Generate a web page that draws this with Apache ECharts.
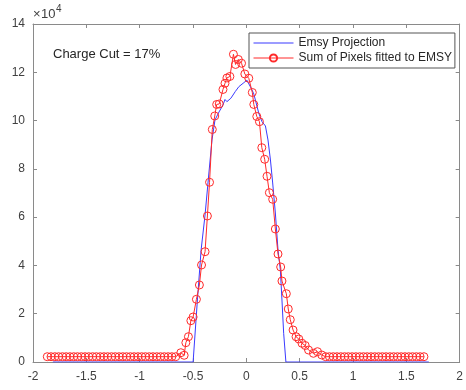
<!DOCTYPE html>
<html>
<head>
<meta charset="utf-8">
<script src="https://cdn.jsdelivr.net/npm/echarts@6/dist/echarts.min.js"></script>
<style>
html, body { margin: 0; padding: 0; background: #fff; }
#chart { width: 466px; height: 390px; }
</style>
</head>
<body>
<div id="chart"></div>
<script>
// Emsy projection (blue line)
var blueX = [-1.814, -0.499, -0.462, -0.424, -0.387, -0.350, -0.322, -0.294, -0.256, -0.219,
	-0.200, -0.182, -0.145, -0.103, -0.070, -0.023, 0.005, 0.023, 0.049, 0.070,
	0.117, 0.147, 0.179, 0.203, 0.226, 0.247, 0.272, 0.297, 0.319, 0.334,
	0.350, 0.371, 1.711];
var blueY = [0, 0, 23610, 46400, 60900, 78710, 91970, 100250, 103560, 106460,
	108740, 107830, 109240, 112060, 114050, 115700, 116740, 116120, 113090, 111020,
	103020, 99540, 97760, 91970, 83680, 74150, 61720, 46400, 38110, 25680,
	11890, 0, 0];

// Sum of pixels fitted to EMSY (red circles)
var redX = [-1.866, -1.831, -1.795, -1.760, -1.724, -1.689, -1.654, -1.618, -1.583, -1.547,
	-1.512, -1.477, -1.441, -1.406, -1.370, -1.335, -1.300, -1.264, -1.229, -1.193,
	-1.158, -1.123, -1.087, -1.052, -1.016, -0.981, -0.946, -0.910, -0.875, -0.839,
	-0.804, -0.769, -0.733, -0.698, -0.662, -0.614, -0.583, -0.567, -0.543, -0.520,
	-0.499, -0.468, -0.440, -0.420, -0.387, -0.365, -0.345, -0.319, -0.296, -0.278,
	-0.254, -0.219, -0.200, -0.182, -0.154, -0.121, -0.101, -0.075, -0.045, -0.014,
	0.023, 0.056, 0.070, 0.098, 0.123, 0.145, 0.172, 0.194, 0.216, 0.247,
	0.272, 0.297, 0.322, 0.334, 0.375, 0.393, 0.412, 0.438, 0.466, 0.492,
	0.522, 0.552, 0.583, 0.629, 0.667, 0.707, 0.744, 0.779, 0.815, 0.850,
	0.886, 0.921, 0.956, 0.992, 1.027, 1.063, 1.098, 1.133, 1.169, 1.204,
	1.240, 1.275, 1.310, 1.346, 1.381, 1.417, 1.452, 1.487, 1.523, 1.558,
	1.594, 1.629, 1.665];
var redY = [2200, 2200, 2200, 2200, 2200, 2200, 2200, 2200, 2200, 2200,
	2200, 2200, 2200, 2200, 2200, 2200, 2200, 2200, 2200, 2200,
	2200, 2200, 2200, 2200, 2200, 2200, 2200, 2200, 2200, 2200,
	2200, 2200, 2200, 2200, 2200, 3850, 2780, 8000, 10480, 17110,
	18640, 25970, 31900, 40180, 45690, 60480, 74440, 96310, 101900, 106670,
	106880, 112880, 115450, 117650, 118270, 127460, 123240, 125310, 123740, 119300,
	117520, 111640, 106670, 101700, 99540, 88770, 83970, 76930, 70130, 67400,
	55100, 44740, 39350, 33550, 28290, 21960, 17520, 13260, 10480, 9530,
	7750, 6840, 4970, 3600, 4270, 2900, 2200, 2200, 2200, 2200,
	2200, 2200, 2200, 2200, 2200, 2200, 2200, 2200, 2200, 2200,
	2200, 2200, 2200, 2200, 2200, 2200, 2200, 2200, 2200, 2200,
	2200, 2200, 2200];

var seriesNames = ['Emsy Projection', 'Sum of Pixels fitted to EMSY'];
var noteText = 'Charge Cut = 17%';

function zip(xs, ys) {
	var out = [];
	for (var i = 0; i < xs.length; i++) {
		out.push([xs[i], ys[i]]);
	}
	return out;
}

var axisColor = '#8a8a8a';
var labelColor = '#404040';
var blue = '#3a3aff';
var red = '#ff2a2a';
var fontFamily = 'Liberation Sans, Arial, sans-serif';

function xAxisCfg(pos, labels) {
	return {
		type : 'value',
		position : pos,
		min : -2,
		max : 2,
		interval : 0.5,
		axisLine : { onZero : false, lineStyle : { color : axisColor } },
		axisTick : { inside : true, length : 4, lineStyle : { color : axisColor } },
		axisLabel : { show : labels, color : labelColor, fontSize : 12, margin : 9 },
		splitLine : { show : false }
	};
}

function yAxisCfg(pos, labels) {
	return {
		type : 'value',
		position : pos,
		min : 0,
		max : 140000,
		interval : 20000,
		axisLine : { show : true, onZero : false, lineStyle : { color : axisColor } },
		axisTick : { show : true, inside : true, length : 4, lineStyle : { color : axisColor } },
		axisLabel : {
			show : labels,
			color : labelColor,
			fontSize : 12,
			margin : 8,
			formatter : function(v) { return String(v / 10000); }
		},
		splitLine : { show : false }
	};
}

var option = {
	animation : false,
	backgroundColor : '#fff',
	textStyle : { fontFamily : fontFamily },
	grid : { left : 33, right : 4, top : 24, bottom : 28 },
	legend : {
		orient : 'vertical',
		left : 249,
		top : 33,
		padding : [4, 3, 4, 4],
		itemGap : 3,
		itemWidth : 40,
		itemHeight : 9,
		borderColor : '#555',
		borderWidth : 1,
		borderRadius : 0,
		backgroundColor : '#fff',
		lineStyle : { width : 1 },
		textStyle : { fontSize : 12, color : '#262626', lineHeight : 12, fontFamily : fontFamily },
		data : [
			{ name : seriesNames[0], icon : 'path://M0,0L40,0L40,1L0,1Z' },
			seriesNames[1]
		]
	},
	xAxis : [ xAxisCfg('bottom', true), xAxisCfg('top', false) ],
	yAxis : [ yAxisCfg('left', true), yAxisCfg('right', false) ],
	graphic : [ {
		type : 'text',
		left : 53,
		top : 48,
		style : { text : noteText, fontSize : 13, fill : '#262626', fontFamily : fontFamily }
	}, {
		type : 'text',
		left : 33,
		top : 8,
		style : { text : '×', fontSize : 13, fill : labelColor, fontFamily : fontFamily }
	}, {
		type : 'text',
		left : 41,
		top : 8,
		style : { text : '10', fontSize : 13, fill : labelColor, fontFamily : fontFamily }
	}, {
		type : 'text',
		left : 56,
		top : 4,
		style : { text : '4', fontSize : 10, fill : labelColor, fontFamily : fontFamily }
	} ],
	series : [ {
		name : seriesNames[0],
		type : 'line',
		symbol : 'none',
		color : blue,
		lineStyle : { width : 1, color : blue },
		data : zip(blueX, blueY)
	}, {
		name : seriesNames[1],
		type : 'line',
		symbol : 'circle',
		symbolSize : 8,
		color : red,
		lineStyle : { width : 1, color : red },
		itemStyle : { color : 'rgba(0,0,0,0)', borderColor : red, borderWidth : 1 },
		data : zip(redX, redY)
	} ]
};

var myChart = echarts.init(document.getElementById('chart'));
myChart.setOption(option);
</script>
</body>
</html>
